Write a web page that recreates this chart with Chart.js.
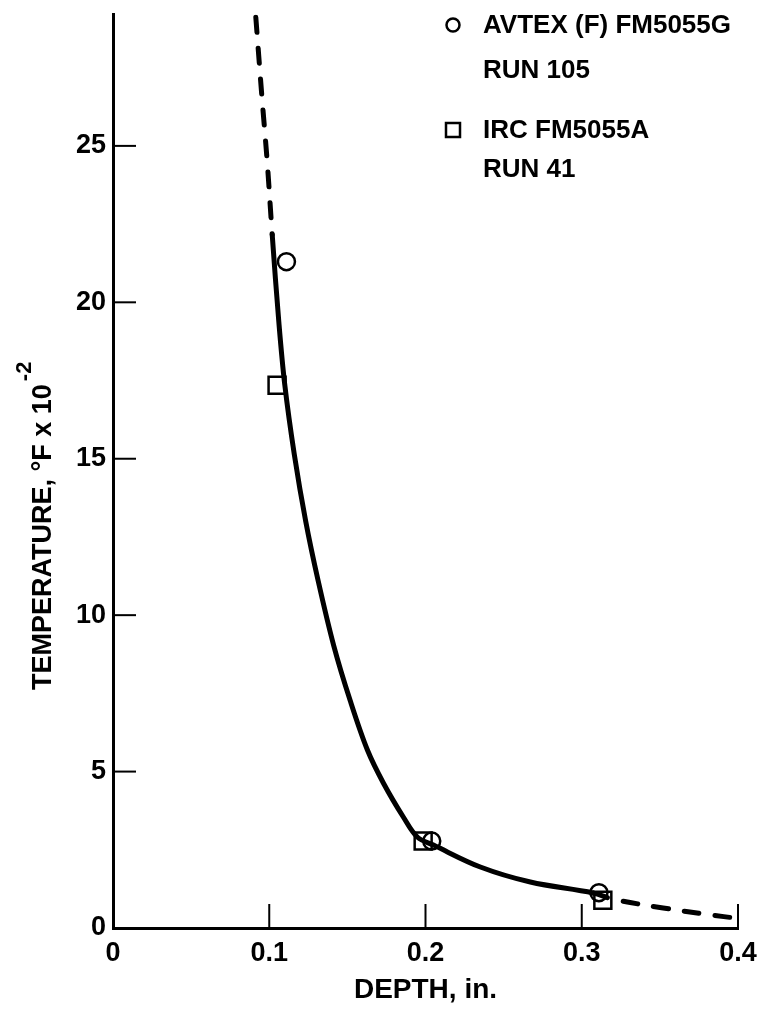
<!DOCTYPE html>
<html>
<head>
<meta charset="utf-8">
<script src="https://cdn.jsdelivr.net/npm/chart.js@4.4.1/dist/chart.umd.min.js"></script>
<style>
    html, body { margin: 0; padding: 0; background: #fff; }
</style>
</head>
<body>
<canvas id="depthChart" width="759" height="1014"></canvas>
<script>
const FONT = "'Liberation Sans', Arial, sans-serif";

// axis ticks
const xTicks = [0, 0.1, 0.2, 0.3, 0.4];
const yTicks = [0, 5, 10, 15, 20, 25];

// measured points
const avtexLabel = ['AVTEX (F) FM5055G', 'RUN 105'];
const avtexDepth = [0.111, 0.204, 0.311];
const avtexTemp = [21.3, 2.78, 1.13];

const ircLabel = ['IRC FM5055A', 'RUN 41'];
const ircDepth = [0.105, 0.1985, 0.3135];
const ircTemp = [17.35, 2.78, 0.89];

// faired curve, dashed where extrapolated
const curveDepth = [0.0914, 0.0952, 0.0987, 0.1019, 0.1061, 0.1099, 0.116, 0.1233, 0.1313, 0.1413, 0.1518, 0.1629, 0.1732, 0.1859, 0.1949, 0.2051, 0.2351, 0.2671, 0.3073, 0.3201, 0.3521, 0.384, 0.3978];
const curveTemp = [29.11, 26.63, 24.49, 22.16, 19.39, 17.38, 15.15, 13.01, 11.1, 9.02, 7.27, 5.68, 4.62, 3.54, 2.9, 2.65, 1.95, 1.47, 1.12, 0.92, 0.64, 0.41, 0.32];
const solidFrom = 0.1019;
const solidTo = 0.3073;

const toPoints = (xs, ys) => xs.map((x, i) => ({ x, y: ys[i] }));

// tick marks pointing into the plot
const inwardTicks = {
    id: 'inwardTicks',
    afterDatasetsDraw(chart) {
        const { ctx, chartArea: a, scales: { x, y } } = chart;
        ctx.save();
        ctx.strokeStyle = '#000';
        ctx.lineWidth = 2;
        x.ticks.forEach(t => {
            if (t.value === 0) return;
            const px = x.getPixelForValue(t.value);
            ctx.beginPath();
            ctx.moveTo(px, a.bottom);
            ctx.lineTo(px, a.bottom - 24);
            ctx.stroke();
        });
        y.ticks.forEach(t => {
            if (t.value === 0) return;
            const py = y.getPixelForValue(t.value);
            ctx.beginPath();
            ctx.moveTo(a.left, py);
            ctx.lineTo(a.left + 23, py);
            ctx.stroke();
        });
        ctx.restore();
    }
};

// y title with a raised exponent
const yTitle = {
    id: 'yTitle',
    afterDraw(chart) {
        const ctx = chart.ctx;
        const main = 'TEMPERATURE, \u00B0F x 10';
        ctx.save();
        ctx.translate(44, 690);
        ctx.rotate(-Math.PI / 2);
        ctx.fillStyle = '#000';
        ctx.textBaseline = 'middle';
        ctx.textAlign = 'left';
        ctx.font = `bold 27px ${FONT}`;
        ctx.fillText(main, 0, 0);
        const w = ctx.measureText(main).width;
        ctx.font = `bold 22px ${FONT}`;
        ctx.fillText('-2', w + 3, -19);
        ctx.restore();
    }
};

// two-line legend in the upper right
const sideLegend = {
    id: 'sideLegend',
    afterDraw(chart) {
        const ctx = chart.ctx;
        const entries = [
            { lines: avtexLabel, style: 'circle', top: 25, gap: 45 },
            { lines: ircLabel, style: 'rect', top: 130, gap: 39 }
        ];
        ctx.save();
        ctx.fillStyle = '#000';
        ctx.strokeStyle = '#000';
        ctx.lineWidth = 2.5;
        ctx.textBaseline = 'middle';
        ctx.font = `bold 26px ${FONT}`;
        entries.forEach(e => {
            ctx.beginPath();
            if (e.style === 'circle') {
                ctx.arc(453, e.top, 6.5, 0, Math.PI * 2);
            } else {
                ctx.rect(446, e.top - 7, 14, 14);
            }
            ctx.stroke();
            e.lines.forEach((line, i) => ctx.fillText(line, 483, e.top + 1 + i * e.gap));
        });
        ctx.restore();
    }
};

const tickFont = { family: FONT, size: 27, weight: 'bold' };

new Chart(document.getElementById('depthChart'), {
    type: 'scatter',
    data: {
        datasets: [
            {
                label: 'curve',
                data: toPoints(curveDepth, curveTemp),
                showLine: true,
                borderColor: '#000',
                borderWidth: 5,
                borderCapStyle: 'round',
                borderJoinStyle: 'round',
                pointRadius: 0,
                tension: 0.35,
                segment: {
                    borderDash: c => (c.p1.parsed.x <= solidFrom || c.p0.parsed.x >= solidTo) ? [15, 16] : undefined
                }
            },
            {
                label: avtexLabel.join(' '),
                data: toPoints(avtexDepth, avtexTemp),
                pointStyle: 'circle',
                pointRadius: 8.5,
                borderWidth: 2.5,
                borderColor: '#000',
                backgroundColor: 'rgba(0,0,0,0)'
            },
            {
                label: ircLabel.join(' '),
                data: toPoints(ircDepth, ircTemp),
                pointStyle: 'rect',
                pointRadius: 12,
                borderWidth: 2.5,
                borderColor: '#000',
                backgroundColor: 'rgba(0,0,0,0)'
            }
        ]
    },
    options: {
        responsive: false,
        animation: false,
        devicePixelRatio: 1,
        layout: { padding: { left: 0, right: 21, top: 12, bottom: 0 } },
        plugins: {
            legend: { display: false },
            tooltip: { enabled: false }
        },
        scales: {
            x: {
                type: 'linear',
                min: 0,
                max: 0.4,
                afterBuildTicks: s => { s.ticks = xTicks.map(v => ({ value: v })); },
                afterFit: s => { s.height = 86; s.paddingLeft = 0; s.paddingRight = 0; },
                grid: { drawOnChartArea: false, drawTicks: false },
                border: { color: '#000', width: 3 },
                ticks: {
                    color: '#000',
                    font: tickFont,
                    padding: 9,
                    callback: v => v === 0 ? '0' : v.toFixed(1)
                },
                title: {
                    display: true,
                    text: 'DEPTH, in.',
                    color: '#000',
                    font: { family: FONT, size: 28, weight: 'bold' },
                    padding: { top: 0, bottom: 7 }
                }
            },
            y: {
                type: 'linear',
                min: 0,
                max: 29.2,
                afterBuildTicks: s => { s.ticks = yTicks.map(v => ({ value: v })); },
                afterFit: s => { s.width = 113; s.paddingTop = 0; s.paddingBottom = 0; },
                grid: { drawOnChartArea: false, drawTicks: false },
                border: { color: '#000', width: 3 },
                ticks: {
                    color: '#000',
                    font: tickFont,
                    padding: 7
                }
            }
        }
    },
    plugins: [inwardTicks, yTitle, sideLegend]
});
</script>
</body>
</html>
